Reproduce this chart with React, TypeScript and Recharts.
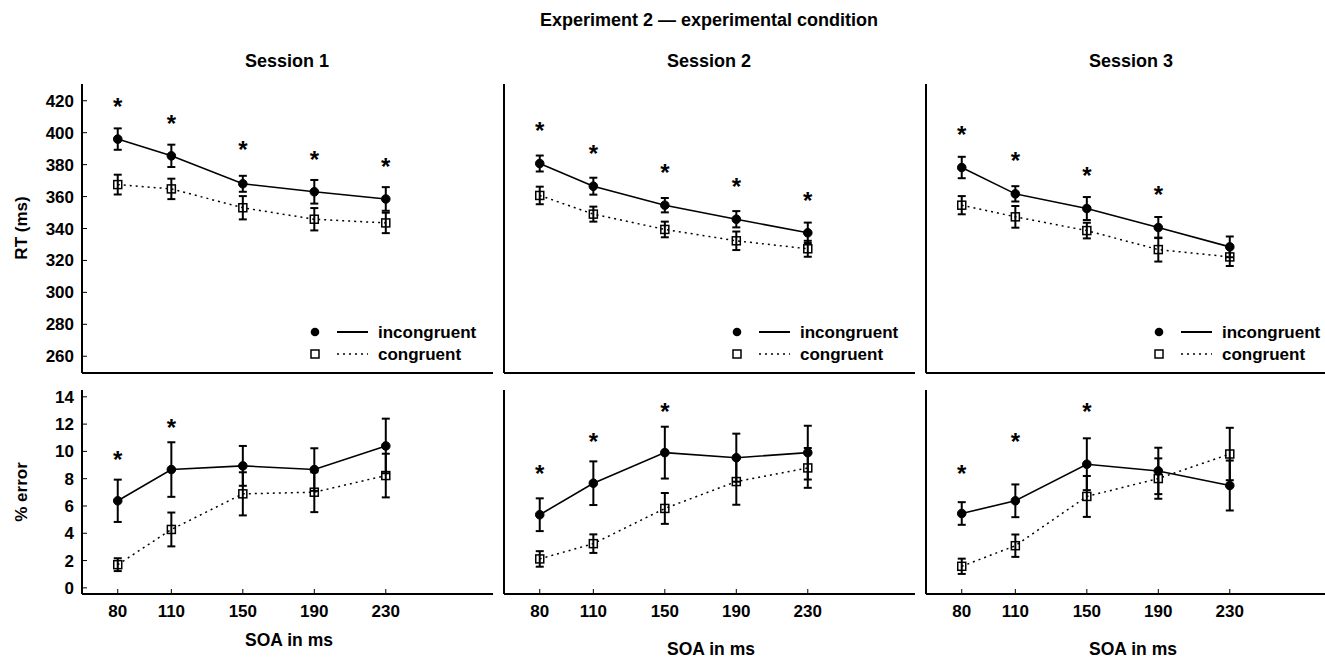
import { ComposedChart, Line, Scatter, XAxis, YAxis, ErrorBar } from 'recharts'

const soa = [80, 110, 150, 190, 230]
const soaMinorTicks = [80, 100, 120, 140, 160, 180, 200, 220, 240, 260, 280]
const rtTicks = [260, 280, 300, 320, 340, 360, 380, 400, 420]
const errTicks = [0, 2, 4, 6, 8, 10, 12, 14]
const sessionNames = ['Session 1', 'Session 2', 'Session 3']

// RT (ms), mean and error bar half-length
const s1IncRT = [396, 385.5, 368, 363, 358.5]
const s1IncRTErr = [6.7, 7, 5, 7.4, 7.4]
const s1ConRT = [367.5, 364.8, 353, 345.8, 343.5]
const s1ConRTErr = [6.2, 6.4, 7.3, 7, 6.4]
const s1RTStars = [419.5, 408.7, 392, 386.2, 381.8]

const s2IncRT = [380.7, 366.5, 354.6, 345.8, 337.3]
const s2IncRTErr = [5, 5.3, 4.5, 5.1, 6.4]
const s2ConRT = [360.7, 349, 339.4, 332.3, 327.3]
const s2ConRTErr = [5.5, 4.7, 4.9, 5.8, 5]
const s2RTStars = [404, 390, 378, 369, 360.3]

const s3IncRT = [378.2, 361.7, 352.5, 340.6, 328.5]
const s3IncRTErr = [6.7, 4.8, 7.2, 6.6, 6.5]
const s3ConRT = [354.6, 347.3, 338.7, 326.8, 322.2]
const s3ConRTErr = [5.7, 6.8, 4.9, 7.5, 5.7]
const s3RTStars = [401.6, 385.3, 376.1, 364.4, null]

// % error
const s1IncPE = [6.38, 8.67, 8.94, 8.67, 10.4]
const s1IncPEErr = [1.55, 2.0, 1.46, 1.56, 2.0]
const s1ConPE = [1.7, 4.28, 6.89, 7.01, 8.23]
const s1ConPEErr = [0.47, 1.24, 1.58, 1.46, 1.6]
const s1PEStars = [9.74, 12.05, null, null, null]

const s2IncPE = [5.36, 7.67, 9.91, 9.54, 9.91]
const s2IncPEErr = [1.2, 1.6, 1.9, 1.76, 1.97]
const s2ConPE = [2.12, 3.24, 5.82, 7.79, 8.79]
const s2ConPEErr = [0.57, 0.68, 1.13, 1.7, 1.46]
const s2PEStars = [8.72, 11.05, 13.25, null, null]

const s3IncPE = [5.45, 6.38, 9.06, 8.57, 7.5]
const s3IncPEErr = [0.83, 1.2, 1.9, 1.7, 1.83]
const s3ConPE = [1.58, 3.09, 6.7, 8.01, 9.81]
const s3ConPEErr = [0.56, 0.82, 1.5, 1.48, 1.92]
const s3PEStars = [8.69, 11.05, 13.25, null, null]

const FONT = '"Liberation Sans", Arial, Helvetica, sans-serif'
const BOX_W = 411
const AXIS_W = 60
const PAD_TOP = 10
const PAD_RIGHT = 4
const PAD_BOTTOM = 34
const BOX_LEFTS = [82, 504, 926]
const TOP_Y = 84
const TOP_H = 289
const BOT_Y = 390
const BOT_H = 204

const tickFont = { fill: '#000', fontSize: 17, fontWeight: 700, fontFamily: FONT }

const SquareDot = (p: any) => {
  if (p.cx == null || p.cy == null) return <g key={`sq-${p.index}`} />
  return (
    <rect
      key={`sq-${p.index}`}
      x={p.cx - 4}
      y={p.cy - 4}
      width={8}
      height={8}
      fill="none"
      stroke="#000"
      strokeWidth={1.5}
    />
  )
}

const Star = (p: any) => (
  <text x={p.cx} y={p.cy + 13} textAnchor="middle" fontSize={24} fontWeight={700} fontFamily={FONT} fill="#000">
    *
  </text>
)

interface PanelProps {
  left: number
  top: number
  height: number
  domain: [number, number]
  yTicks: number[]
  inc: number[]
  incErr: number[]
  con: number[]
  conErr: number[]
  stars: (number | null)[]
  showYLabels: boolean
  showXLabels: boolean
}

function Panel({ left, top, height, domain, yTicks, inc, incErr, con, conErr, stars, showYLabels, showXLabels }: PanelProps) {
  const data = soa.map((x, i) => ({ x, inc: inc[i], incErr: incErr[i], con: con[i], conErr: conErr[i] }))
  const starData = soa
    .map((x, i) => ({ x, star: stars[i] }))
    .filter((d) => d.star != null)

  return (
    <div style={{ position: 'absolute', left: left - AXIS_W, top: top - PAD_TOP }}>
      <ComposedChart
        width={AXIS_W + BOX_W + PAD_RIGHT}
        height={PAD_TOP + height + PAD_BOTTOM}
        data={data}
        margin={{ top: PAD_TOP, right: PAD_RIGHT, bottom: 0, left: 0 }}
      >
        <XAxis
          xAxisId="b"
          dataKey="x"
          type="number"
          domain={[60, 290]}
          allowDataOverflow
          ticks={showXLabels ? soa : soaMinorTicks}
          orientation="bottom"
          height={PAD_BOTTOM}
          tick={showXLabels ? tickFont : false}
          tickSize={-5}
          tickMargin={16}
          axisLine={{ stroke: '#000', strokeWidth: 2 }}
          tickLine={{ stroke: '#000', strokeWidth: 1 }}
        />
        <XAxis
          xAxisId="t"
          dataKey="x"
          type="number"
          domain={[60, 290]}
          allowDataOverflow
          ticks={soaMinorTicks}
          orientation="top"
          height={0}
          tick={false}
          tickSize={-4}
          axisLine={{ stroke: '#000', strokeWidth: 2 }}
          tickLine={{ stroke: '#000', strokeWidth: 1 }}
        />
        <YAxis
          yAxisId="l"
          type="number"
          domain={domain}
          allowDataOverflow
          ticks={yTicks}
          orientation="left"
          width={AXIS_W}
          tick={showYLabels ? tickFont : false}
          tickSize={-5}
          tickMargin={13}
          axisLine={{ stroke: '#000', strokeWidth: 2 }}
          tickLine={{ stroke: '#000', strokeWidth: 1 }}
        />
        <YAxis
          yAxisId="r"
          type="number"
          domain={domain}
          allowDataOverflow
          ticks={yTicks}
          orientation="right"
          width={0}
          tick={false}
          tickSize={-4}
          axisLine={{ stroke: '#000', strokeWidth: 2 }}
          tickLine={{ stroke: '#000', strokeWidth: 1 }}
        />
        <Line
          xAxisId="b"
          yAxisId="l"
          dataKey="con"
          stroke="#000"
          strokeWidth={1.5}
          strokeDasharray="2 4"
          dot={SquareDot}
          activeDot={false}
          isAnimationActive={false}
        >
          <ErrorBar dataKey="conErr" direction="y" width={4} stroke="#000" strokeWidth={2} isAnimationActive={false} />
        </Line>
        <Line
          xAxisId="b"
          yAxisId="l"
          dataKey="inc"
          stroke="#000"
          strokeWidth={1.6}
          dot={{ r: 4.3, fill: '#000', stroke: '#000', strokeWidth: 1 }}
          activeDot={false}
          isAnimationActive={false}
        >
          <ErrorBar dataKey="incErr" direction="y" width={4} stroke="#000" strokeWidth={2} isAnimationActive={false} />
        </Line>
        <Scatter
          xAxisId="b"
          yAxisId="l"
          data={starData}
          dataKey="star"
          shape={Star}
          isAnimationActive={false}
        />
      </ComposedChart>
    </div>
  )
}

function Legendbox({ left }: { left: number }) {
  const y1 = 332
  const y2 = 354
  return (
    <g>
      <circle cx={left + 233} cy={y1} r={4.3} fill="#000" />
      <line x1={left + 255} x2={left + 286} y1={y1} y2={y1} stroke="#000" strokeWidth={2} />
      <text x={left + 296} y={y1 + 6} fontSize={17} fontWeight={700} fontFamily={FONT}>incongruent</text>
      <rect x={left + 229} y={y2 - 4} width={8} height={8} fill="none" stroke="#000" strokeWidth={1.5} />
      <line x1={left + 255} x2={left + 286} y1={y2} y2={y2} stroke="#000" strokeWidth={1.5} strokeDasharray="2 4" />
      <text x={left + 296} y={y2 + 6} fontSize={17} fontWeight={700} fontFamily={FONT}>congruent</text>
    </g>
  )
}

const topSeries = [
  { inc: s1IncRT, incErr: s1IncRTErr, con: s1ConRT, conErr: s1ConRTErr, stars: s1RTStars },
  { inc: s2IncRT, incErr: s2IncRTErr, con: s2ConRT, conErr: s2ConRTErr, stars: s2RTStars },
  { inc: s3IncRT, incErr: s3IncRTErr, con: s3ConRT, conErr: s3ConRTErr, stars: s3RTStars },
]
const bottomSeries = [
  { inc: s1IncPE, incErr: s1IncPEErr, con: s1ConPE, conErr: s1ConPEErr, stars: s1PEStars },
  { inc: s2IncPE, incErr: s2IncPEErr, con: s2ConPE, conErr: s2ConPEErr, stars: s2PEStars },
  { inc: s3IncPE, incErr: s3IncPEErr, con: s3ConPE, conErr: s3ConPEErr, stars: s3PEStars },
]
const soaLabelY = [646, 655, 655]

export default function App() {
  return (
    <div
      style={{
        position: 'absolute',
        left: 0,
        top: 0,
        width: 1325,
        height: 659,
        overflow: 'hidden',
        background: '#fff',
      }}
    >
      {BOX_LEFTS.map((left, i) => (
        <Panel
          key={`top-${i}`}
          left={left}
          top={TOP_Y}
          height={TOP_H}
          domain={[249.5, 430.5]}
          yTicks={rtTicks}
          {...topSeries[i]}
          showYLabels={i === 0}
          showXLabels={false}
        />
      ))}
      {BOX_LEFTS.map((left, i) => (
        <Panel
          key={`bot-${i}`}
          left={left}
          top={BOT_Y}
          height={BOT_H}
          domain={[-0.45, 14.5]}
          yTicks={errTicks}
          {...bottomSeries[i]}
          showYLabels={i === 0}
          showXLabels
        />
      ))}
      <svg
        width={1325}
        height={659}
        style={{ position: 'absolute', left: 0, top: 0, pointerEvents: 'none' }}
      >
        <g fontFamily={FONT} fontWeight={700} fill="#000">
          <text x={709} y={26} textAnchor="middle" fontSize={18}>
            Experiment 2 — experimental condition
          </text>
          {BOX_LEFTS.map((left, i) => (
            <text key={sessionNames[i]} x={left + 205} y={67} textAnchor="middle" fontSize={18}>
              {sessionNames[i]}
            </text>
          ))}
          <text x={27} y={228} textAnchor="middle" fontSize={17} transform="rotate(-90 27 228)">
            RT (ms)
          </text>
          <text x={27} y={492} textAnchor="middle" fontSize={17} transform="rotate(-90 27 492)">
            % error
          </text>
          {BOX_LEFTS.map((left, i) => (
            <text key={`soa-${i}`} x={left + 207} y={soaLabelY[i]} textAnchor="middle" fontSize={17.5}>
              SOA in ms
            </text>
          ))}
          {BOX_LEFTS.map((left) => (
            <Legendbox key={`lg-${left}`} left={left} />
          ))}
        </g>
      </svg>
    </div>
  )
}
